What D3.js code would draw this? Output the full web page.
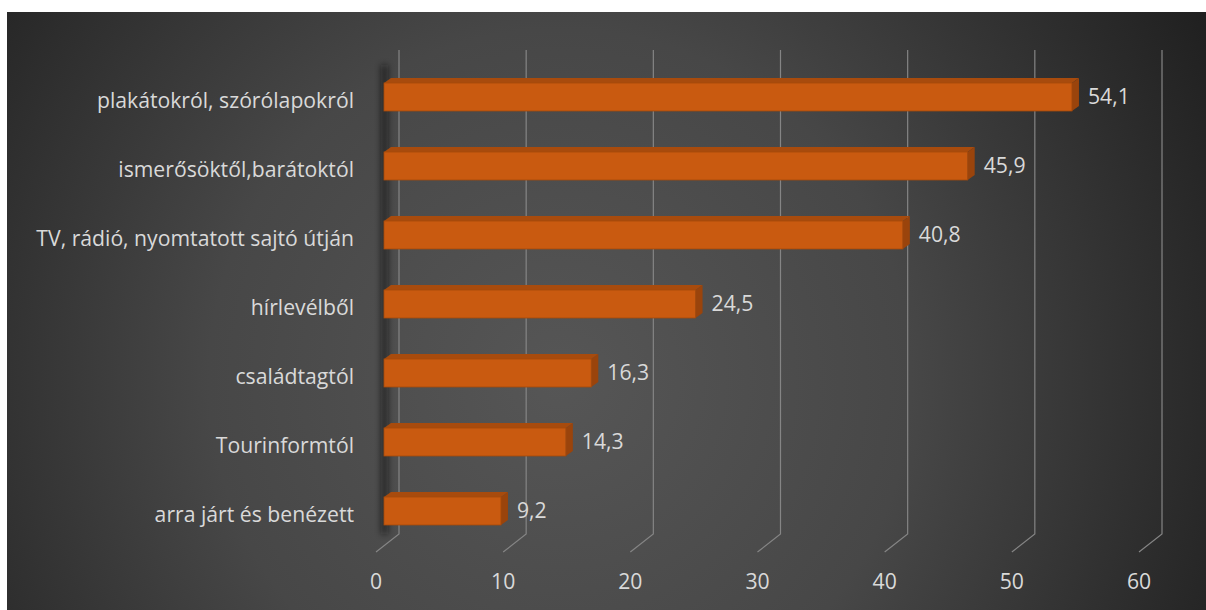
<!DOCTYPE html>
<html>
<head>
<meta charset="utf-8">
<script src="https://cdn.jsdelivr.net/npm/d3@7"></script>
<style>
  html, body { margin: 0; padding: 0; background: #fff; }
  svg { display: block; }
  text { font-family: "Open Sans", "Noto Sans", sans-serif; }
</style>
</head>
<body>
<svg id="chart"></svg>
<script>
// Data
const categories = [
    "plakátokról, szórólapokról",
    "ismerősöktől,barátoktól",
    "TV, rádió, nyomtatott sajtó útján",
    "hírlevélből",
    "családtagtól",
    "Tourinformtól",
    "arra járt és benézett"
];
const values = [54.1, 45.9, 40.8, 24.5, 16.3, 14.3, 9.2];
const xTicks = [0, 10, 20, 30, 40, 50, 60];

const width = 1206;
const height = 610;

// back wall of the 3D plot and the perspective shift towards the viewer
const backLeft = 399, backRight = 1162;
const plotTop = 50, plotBottom = 534;
const floorDx = -23, floorDy = 18;   // front edge of the floor
const barDx = -15;                   // front face of the bars
const depthX = 7, depthY = -5;       // bar depth
const barH = 28;
const fontSize = 21.2;

const fmt = v => String(v).replace(".", ",");

const svg = d3.select("#chart")
    .attr("width", width)
    .attr("height", height)
    .attr("viewBox", [0, 0, width, height]);

const defs = svg.append("defs");
const bg = defs.append("radialGradient")
    .attr("id", "bg")
    .attr("gradientUnits", "userSpaceOnUse")
    .attr("cx", 560).attr("cy", 380).attr("r", 780);
bg.append("stop").attr("offset", "0%").attr("stop-color", "#565656");
bg.append("stop").attr("offset", "45%").attr("stop-color", "#474747");
bg.append("stop").attr("offset", "100%").attr("stop-color", "#1c1c1c");

defs.append("filter").attr("id", "blur")
    .attr("x", "-100%").attr("y", "-5%").attr("width", "300%").attr("height", "110%")
    .append("feGaussianBlur").attr("stdDeviation", 3);

defs.append("filter").attr("id", "soft")
    .append("feGaussianBlur").attr("stdDeviation", 0.8);

// Background panel (white margin on top and left)
svg.append("rect")
    .attr("x", 7).attr("y", 12)
    .attr("width", width - 7).attr("height", height - 12)
    .attr("fill", "url(#bg)");

// Scales
const x = d3.scaleLinear()
    .domain([0, 60])
    .range([backLeft, backRight]);

const y = d3.scalePoint()
    .domain(categories)
    .range([97, 511]);

// Gridlines: vertical on the back wall, then diagonally across the floor
const grid = svg.append("g");
grid.selectAll("path.shadow")
    .data(xTicks)
    .join("path")
    .attr("class", "shadow")
    .attr("fill", "none")
    .attr("stroke", "#000")
    .attr("stroke-opacity", 0.25)
    .attr("stroke-width", 2)
    .attr("filter", "url(#soft)")
    .attr("d", d => `M${x(d) - 1.5},${plotTop}V${plotBottom}`);
grid.selectAll("path.line")
    .data(xTicks)
    .join("path")
    .attr("class", "line")
    .attr("fill", "none")
    .attr("stroke", "#858585")
    .attr("stroke-width", 1.2)
    .attr("d", d => `M${x(d)},${plotTop}V${plotBottom}l${floorDx},${floorDy}`);

// Shadow on the left wall
svg.append("rect")
    .attr("x", 381).attr("y", plotTop + 15)
    .attr("width", 7).attr("height", plotBottom - plotTop - 15)
    .attr("fill", "#111")
    .attr("opacity", 0.6)
    .attr("filter", "url(#blur)");

// Bars
const x0 = x(0) + barDx;
const bw = v => x(v) - x(0);

const bars = svg.append("g")
    .selectAll("g")
    .data(categories.map((c, i) => ({ c, v: values[i] })))
    .join("g")
    .attr("transform", d => `translate(${x0},${y(d.c) - barH / 2})`);

// top face
bars.append("path")
    .attr("fill", "#a84b0d")
    .attr("d", d => `M0,0l${depthX},${depthY}h${bw(d.v)}l${-depthX},${-depthY}Z`);
// side face
bars.append("path")
    .attr("fill", "#9a440c")
    .attr("d", d => `M${bw(d.v)},0l${depthX},${depthY}v${barH}l${-depthX},${-depthY}Z`);
// front face
bars.append("rect")
    .attr("width", d => bw(d.v))
    .attr("height", barH)
    .attr("fill", "#c95a10");
bars.append("rect")
    .attr("width", d => bw(d.v))
    .attr("height", barH)
    .attr("fill", "none")
    .attr("stroke", "#a54a0c")
    .attr("stroke-width", 0.8);

// Value labels
bars.append("text")
    .attr("x", d => bw(d.v) + depthX + 9)
    .attr("y", barH / 2)
    .attr("dy", "0.35em")
    .attr("fill", "#d9d9d9")
    .attr("font-size", fontSize)
    .text(d => fmt(d.v));

// Category labels
svg.append("g")
    .selectAll("text")
    .data(categories)
    .join("text")
    .attr("x", 354)
    .attr("y", d => y(d) + 4)
    .attr("dy", "0.35em")
    .attr("text-anchor", "end")
    .attr("fill", "#d9d9d9")
    .attr("font-size", fontSize)
    .text(d => d);

// X axis labels along the front edge of the floor
svg.append("g")
    .selectAll("text")
    .data(xTicks)
    .join("text")
    .attr("x", d => x(d) + floorDx)
    .attr("y", 582)
    .attr("dy", "0.35em")
    .attr("text-anchor", "middle")
    .attr("fill", "#d9d9d9")
    .attr("font-size", fontSize)
    .text(d => d);
</script>
</body>
</html>
